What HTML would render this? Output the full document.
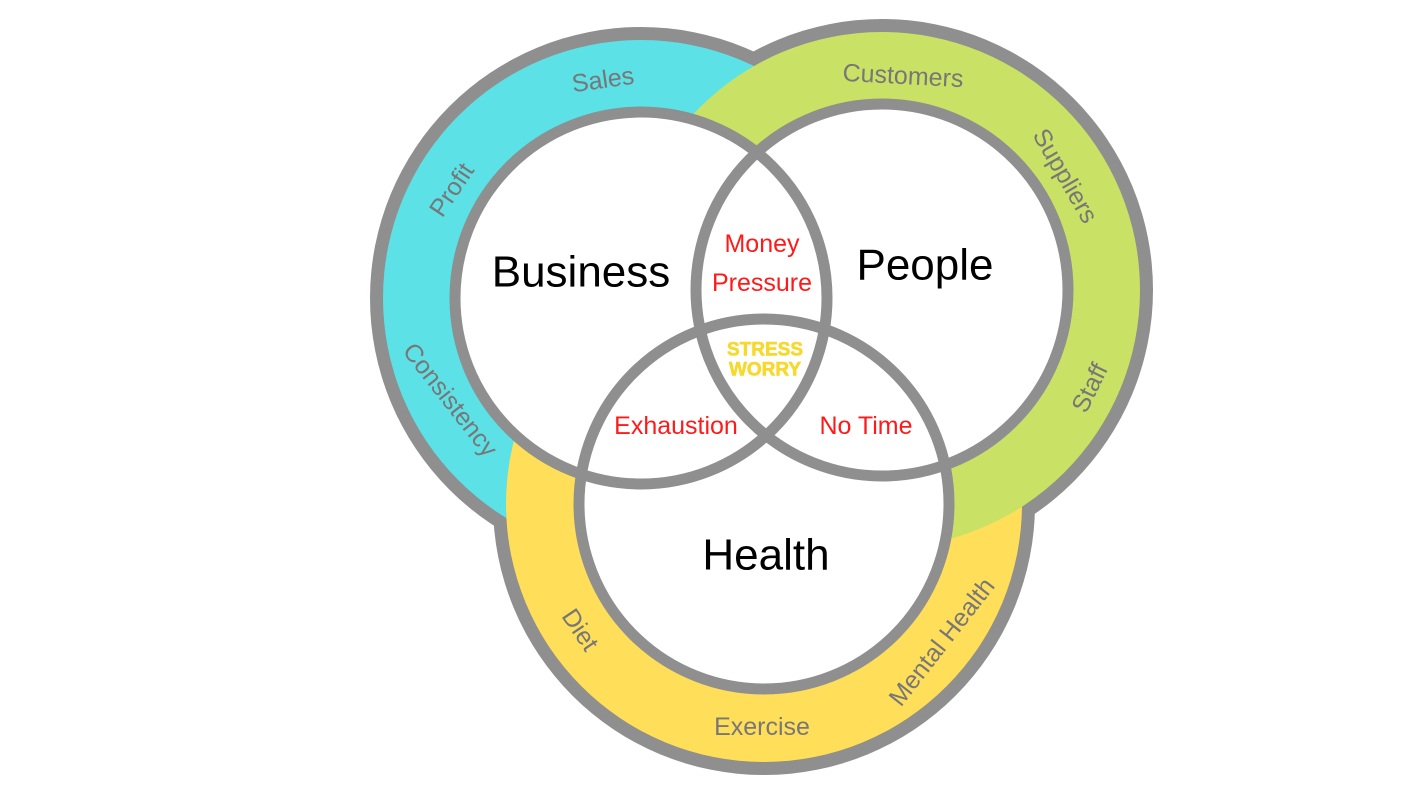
<!DOCTYPE html>
<html><head><meta charset="utf-8"><style>
html,body{margin:0;padding:0;background:#fff;}
svg{display:block;}
</style></head><body>
<svg width="1422" height="800" viewBox="0 0 1422 800" xmlns="http://www.w3.org/2000/svg" font-family="'Liberation Sans', sans-serif">
  <circle cx="641" cy="298" r="271" fill="#8f8f8f"/>
  <circle cx="882" cy="290" r="271" fill="#8f8f8f"/>
  <circle cx="764" cy="504" r="271" fill="#8f8f8f"/>
  <circle cx="641" cy="298" r="258" fill="#5ce1e6"/>
  <circle cx="764" cy="504" r="258" fill="#ffde59"/>
  <circle cx="882" cy="290" r="258" fill="#c9e265"/>
  <circle cx="641" cy="298" r="186" fill="#fff"/>
  <circle cx="882" cy="290" r="186" fill="#fff"/>
  <circle cx="764" cy="504" r="185" fill="#fff"/>
  <g fill="none" stroke="#8f8f8f" stroke-width="11">
    <circle cx="641" cy="298" r="186"/>
    <circle cx="882" cy="290" r="186"/>
    <circle cx="764" cy="504" r="185"/>
  </g>
  <g fill="#777" font-size="25" text-anchor="middle" dominant-baseline="central">
    <text x="603" y="80" transform="rotate(-8 603 80)">Sales</text>
    <text x="452" y="190" transform="rotate(-56 452 190)">Profit</text>
    <text x="450" y="400" transform="rotate(52 450 400)">Consistency</text>
    <text x="903" y="76" transform="rotate(3 903 76)">Customers</text>
    <text x="1065" y="176" transform="rotate(60 1065 176)">Suppliers</text>
    <text x="1090" y="388" transform="rotate(-64 1090 388)">Staff</text>
    <text x="580" y="630" transform="rotate(56 580 630)">Diet</text>
    <text x="762" y="727">Exercise</text>
    <text x="942" y="642" transform="rotate(-52 942 642)">Mental Health</text>
  </g>
  <g fill="#000" font-size="44" text-anchor="middle" dominant-baseline="central">
    <text x="581" y="272">Business</text>
    <text x="925" y="265">People</text>
    <text x="766" y="555">Health</text>
  </g>
  <g fill="#ff1a1a" font-size="25" text-anchor="middle" dominant-baseline="central">
    <text x="762" y="244">Money</text>
    <text x="762" y="283">Pressure</text>
    <text x="676" y="426">Exhaustion</text>
    <text x="866" y="426">No Time</text>
  </g>
  <g fill="#f7d82c" font-size="19" font-weight="bold" text-anchor="middle" dominant-baseline="central" stroke="#f7d82c" stroke-width="0.6">
    <text x="765" y="350">STRESS</text>
    <text x="765" y="370">WORRY</text>
  </g>
</svg>
</body></html>
